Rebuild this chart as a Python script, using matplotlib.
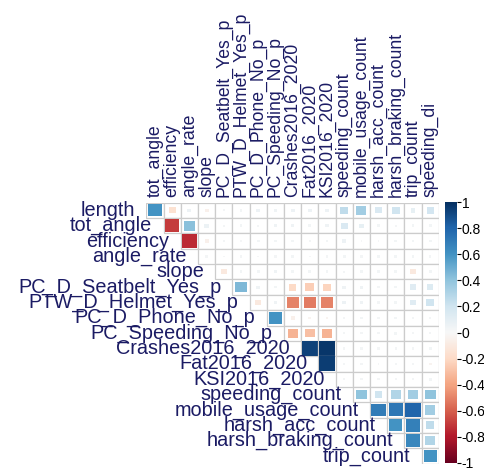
import numpy as np
import matplotlib.pyplot as plt
from matplotlib.patches import Rectangle
from matplotlib.colors import Normalize
from matplotlib.cm import ScalarMappable

plt.rcParams['font.family'] = ['Liberation Sans', 'DejaVu Sans']

row_names = ["length", "tot_angle", "efficiency", "angle_rate", "slope",
             "PC_D_Seatbelt_Yes_p", "PTW_D_Helmet_Yes_p", "PC_D_Phone_No_p",
             "PC_Speeding_No_p", "Crashes2016_2020", "Fat2016_2020",
             "KSI2016_2020", "speeding_count", "mobile_usage_count",
             "harsh_acc_count", "harsh_braking_count", "trip_count"]
col_names = ["tot_angle", "efficiency", "angle_rate", "slope",
             "PC_D_Seatbelt_Yes_p", "PTW_D_Helmet_Yes_p", "PC_D_Phone_No_p",
             "PC_Speeding_No_p", "Crashes2016_2020", "Fat2016_2020",
             "KSI2016_2020", "speeding_count", "mobile_usage_count",
             "harsh_acc_count", "harsh_braking_count", "trip_count",
             "speeding_di"]

# upper triangle, row i starts at column i
corr_rows = [
    [0.6, -0.15, 0.05, -0.05, 0.02, 0.03, 0.05, 0.04, 0.05, 0.05, 0.05, 0.25, 0.35, 0.15, 0.2, 0.08, 0.18],
    [-0.7, 0.42, 0.06, 0.02, 0.03, 0.02, 0.04, 0.04, 0.03, 0.04, 0.15, 0.08, 0.03, 0.02, 0.03, 0.03],
    [-0.75, -0.05, 0.02, 0.01, 0.03, 0.03, 0.03, 0.02, 0.03, 0.05, 0.01, 0.01, 0.03, 0.03, 0.03],
    [0.02, 0.01, 0.02, 0.01, 0.02, 0.03, 0.01, 0.02, 0.03, 0.02, 0.03, 0.03, 0.03, 0.02],
    [-0.1, 0.03, 0.03, 0.04, 0.03, 0.03, 0.03, 0.02, 0.03, 0.03, 0.03, -0.1, 0.03],
    [0.45, 0.04, 0.03, -0.2, -0.25, -0.22, 0.04, 0.04, 0.02, 0.03, 0.12, 0.14],
    [-0.1, 0.04, -0.5, -0.52, -0.5, 0.05, 0.04, 0.02, 0.03, 0.12, 0.2],
    [0.6, -0.05, -0.03, -0.03, 0.02, 0.03, 0.02, 0.03, 0.02, 0.02],
    [-0.35, -0.3, -0.35, 0.02, 0.02, 0.02, 0.03, 0.02, 0.02],
    [0.93, 0.97, 0.02, 0.02, 0.02, 0.02, 0.02, 0.03],
    [0.95, 0.02, 0.02, 0.01, 0.02, 0.02, -0.03],
    [0.02, 0.02, 0.02, 0.02, 0.02, 0.03],
    [0.4, 0.2, 0.3, 0.35, 0.4],
    [0.7, 0.72, 0.8, 0.35],
    [0.6, 0.68, 0.25],
    [0.65, 0.3],
    [0.6],
]

cbar_ticks = [-1, -0.8, -0.6, -0.4, -0.2, 0, 0.2, 0.4, 0.6, 0.8, 1]
cbar_labels = ["-1", "-0.8", "-0.6", "-0.4", "-0.2", "0", "0.2", "0.4", "0.6", "0.8", "1"]

label_col = "#1b1b64"
n = len(row_names)
cmap = plt.get_cmap("RdBu")
norm = Normalize(-1, 1)

W, H = 485, 470
fig = plt.figure(figsize=(W / 100, H / 100), dpi=100)
ax = fig.add_axes([146.4 / W, 1 - 463.7 / H, 292.4 / W, 261 / H])
ax.set_xlim(-0.5, n - 0.5)
ax.set_ylim(n - 0.5, -0.5)
ax.axis("off")

for i, vals in enumerate(corr_rows):
    for k, r in enumerate(vals):
        j = i + k
        ax.add_patch(Rectangle((j - 0.5, i - 0.5), 1, 1, facecolor="white",
                               edgecolor="#cccccc", lw=0.9))
        s = np.sqrt(abs(r))
        ax.add_patch(Rectangle((j - s / 2, i - s / 2), s, s,
                               facecolor=cmap(norm(r)), edgecolor="none"))
    ax.text(i - 0.5 - 0.65, i, row_names[i], ha="right", va="center",
            fontsize=14.3, color=label_col, clip_on=False)

for j, name in enumerate(col_names):
    ax.text(j, -0.5 - 0.35, name, rotation=90, ha="center", va="bottom",
            fontsize=12.7, color=label_col, clip_on=False)

# colour legend
cax = fig.add_axes([445 / W, 1 - 463 / H, 12 / W, 261 / H])
sm = ScalarMappable(norm=norm, cmap=cmap)
cb = fig.colorbar(sm, cax=cax, ticks=cbar_ticks)
cb.ax.set_yticklabels(cbar_labels)
cb.outline.set_visible(False)
cb.ax.tick_params(length=3, width=0.8, labelsize=10, pad=0.5, colors="black")

fig.savefig("out.png", dpi=100)
